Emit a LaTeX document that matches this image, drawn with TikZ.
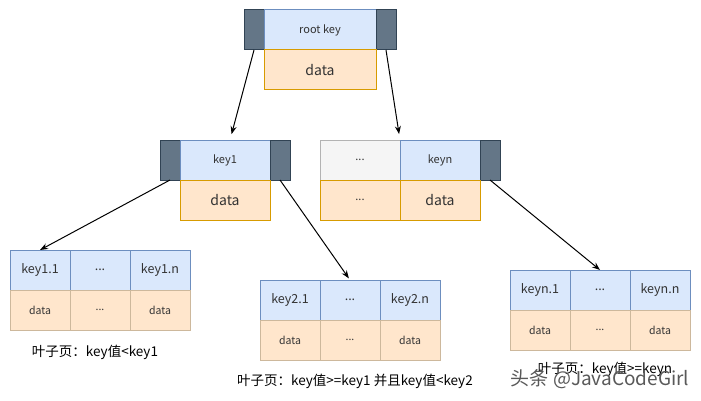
\documentclass[tikz,border=0pt]{standalone}
\usepackage{fontspec}
\setmainfont{Noto Sans CJK SC}
\usetikzlibrary{positioning, arrows.meta}
\definecolor{keyblue}{HTML}{DAE8FC}
\definecolor{keyline}{HTML}{6C8EBF}
\definecolor{dataorange}{HTML}{FFE6CC}
\definecolor{dataline}{HTML}{D79B00}
\definecolor{ptrdark}{HTML}{647687}
\definecolor{ptrline}{HTML}{314354}
\definecolor{emptygray}{HTML}{F5F5F5}
\definecolor{emptyline}{HTML}{B3B3B3}
\definecolor{leafline}{HTML}{CDB89C}
\definecolor{textgray}{HTML}{333333}
\tikzstyle{page-cell}=[
draw,
shape=rectangle,
line width=1pt,
outer sep=0pt,
inner sep=0pt,
minimum height=40pt,
text=textgray,
]
\tikzstyle{key-cell}=[
page-cell,
fill=keyblue,
draw=keyline,
font=\fontsize{11}{12}\selectfont,
]
\tikzstyle{data-cell}=[
page-cell,
fill=dataorange,
draw=dataline,
font=\fontsize{14}{15}\selectfont,
]
\tikzstyle{ptr-cell}=[
page-cell,
fill=ptrdark,
draw=ptrline,
minimum width=20pt,
]
\tikzstyle{empty-cell}=[
page-cell,
fill=emptygray,
draw=emptyline,
font=\fontsize{11}{12}\selectfont,
]
\tikzstyle{leaf-key}=[
page-cell,
fill=keyblue,
draw=keyline,
minimum width=60pt,
font=\fontsize{12.5}{14}\selectfont,
]
\tikzstyle{leaf-data}=[
page-cell,
fill=dataorange,
draw=leafline,
minimum width=60pt,
font=\fontsize{10.5}{12}\selectfont,
]
\tikzstyle{leaf-label}=[
font=\fontsize{13.5}{15}\selectfont,
text=black,
]
\tikzstyle{child-link}=[
-{Stealth[length=8pt,width=6pt]},
line width=1pt,
]

\begin{document}
\begin{tikzpicture}[x=1pt, y=-1pt]
        \useasboundingbox[fill=white] (0,0) rectangle (701,401);
        \newcommand{\leafpage}[5]
        {
          \node[leaf-key, anchor=north west] (#1k1) at (#2,#3) {#4};
          \node[leaf-key, right=0pt of {#1k1}] (#1k2) {...};
          \node[leaf-key, right=0pt of {#1k2}] (#1k3) {#5};
          \node[leaf-data, below=0pt of {#1k1}] (#1d1) {data};
          \node[leaf-data, below=0pt of {#1k2}] (#1d2) {...};
          \node[leaf-data, below=0pt of {#1k3}] (#1d3) {data};
        }

        \node[ptr-cell, anchor=north west] (rootl) at (244,10) {};
        \node[key-cell, minimum width=112pt, right=0pt of rootl] (root) {root key};
        \node[ptr-cell, right=0pt of root] (rootr) {};
        \node[data-cell, minimum width=112pt, below=0pt of root] (rootd) {data};

        \node[ptr-cell, anchor=north west] (key1l) at (160,140) {};
        \node[key-cell, minimum width=90pt, right=0pt of key1l] (key1) {key1};
        \node[ptr-cell, right=0pt of key1] (key1r) {};
        \node[data-cell, minimum width=90pt, below=0pt of key1] (key1d) {data};

        \node[empty-cell, minimum width=80pt, anchor=north west] (keyx) at (320,140) {...};
        \node[key-cell, minimum width=80pt, right=0pt of keyx] (keyn) {keyn};
        \node[ptr-cell, right=0pt of keyn] (keynr) {};
        \node[data-cell, minimum width=80pt, below=0pt of keyx, font=\fontsize{11}{12}\selectfont] (keyxd) {...};
        \node[data-cell, minimum width=80pt, below=0pt of keyn] (keynd) {data};

        \leafpage{la}{10}{250}{key1.1}{key1.n}
        \leafpage{lb}{260}{280}{key2.1}{key2.n}
        \leafpage{lc}{510}{270}{keyn.1}{keyn.n}

        \node[leaf-label] (labela) at (95,352) {叶子页：key值<key1};
        \node[leaf-label] (labelb) at (355,381) {叶子页：key值>=key1 并且key值<key2};
        \node[leaf-label] (labelc) at (605,369) {叶子页：key值>=keyn};
        \node[font=\fontsize{19}{20}\selectfont, text=black!65] (mark) at (600,379) {头条 @JavaCodeGirl};

        \draw[child-link, shorten >=6pt] (rootl.south) -- ([xshift=5pt]key1.north);
        \draw[child-link, shorten >=6pt] (rootr.south) -- (keyx.north east);
        \draw[child-link] (key1l.south) -- (lak1.north);
        \draw[child-link, shorten >=2pt] (key1r.south) -- (lbk2.north);
        \draw[child-link] (keynr.south) -- (lck2.north);
      \end{tikzpicture}
\end{document}
